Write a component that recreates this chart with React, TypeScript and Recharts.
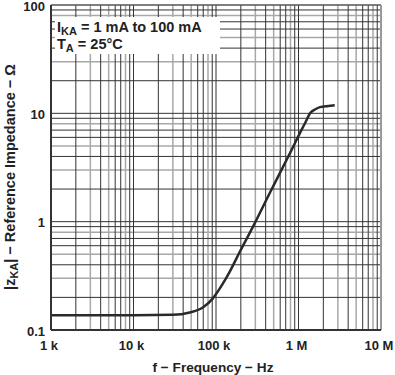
import React from "react";
import { LineChart, Line, XAxis, YAxis, ReferenceLine } from "recharts";

const freqHz = [1e3, 1e4, 3e4, 4.8e4, 7e4, 9.1e4, 1.2e5, 1.48e5, 1.95e5, 2.81e5, 4.5e5, 8.3e5, 1.05e6, 1.2e6, 1.38e6, 1.6e6, 1.82e6, 2.3e6, 2.75e6];
const impedanceOhm = [0.137, 0.137, 0.138, 0.145, 0.162, 0.195, 0.265, 0.35, 0.53, 0.9, 1.85, 4.64, 6.67, 8.1, 10.0, 10.9, 11.4, 11.7, 11.9];

const xTicks = [1e3, 1e4, 1e5, 1e6, 1e7];
const xTickLabels = ["1 k", "10 k", "100 k", "1 M", "10 M"];
const yTicks = [0.1, 1, 10, 100];
const yTickLabels = ["0.1", "1", "10", "100"];

const xDecades = [1e3, 1e4, 1e5, 1e6];
const yDecades = [0.1, 1, 10];
const darkMultipliers = [2, 4, 6, 7, 9];
const lightMultipliers = [3, 5, 8];

const data = freqHz.map((f, i) => ({ f, z: impedanceOhm[i] }));

const FONT = "'Liberation Sans', Arial, Helvetica, sans-serif";
const DARK = "#333333";
const LIGHT = "#a8a8a8";

const xDark = xDecades.flatMap((d) => darkMultipliers.map((m) => d * m)).concat([1e4, 1e5, 1e6]);
const xLight = xDecades.flatMap((d) => lightMultipliers.map((m) => d * m));
const yDark = yDecades.flatMap((d) => darkMultipliers.map((m) => d * m)).concat([1, 10]);
const yLight = yDecades.flatMap((d) => lightMultipliers.map((m) => d * m));

const XTick = (props: any) => {
  const { x, y, payload } = props;
  const idx = xTicks.indexOf(payload.value);
  return (
    <text x={x - 2} y={y} dy={9} textAnchor="middle" fontFamily={FONT} fontWeight="bold" fontSize={13} fill="#222">
      {xTickLabels[idx]}
    </text>
  );
};

const YTick = (props: any) => {
  const { x, y, payload } = props;
  const idx = yTicks.indexOf(payload.value);
  return (
    <text x={x} y={y} dy={5.5} textAnchor="end" fontFamily={FONT} fontWeight="bold" fontSize={13} fill="#222">
      {yTickLabels[idx]}
    </text>
  );
};

const XTitle = () => (
  <text x={213} y={372} textAnchor="middle" fontFamily={FONT} fontWeight="bold" fontSize={13.6} fill="#222">
    f − Frequency − Hz
  </text>
);

const YTitle = () => (
  <text
    x={0}
    y={0}
    transform="translate(15,177) rotate(-90)"
    textAnchor="middle"
    fontFamily={FONT}
    fontWeight="bold"
    fontSize={14.5}
    fill="#222"
  >
    |z<tspan fontSize={11} dy={3}>KA</tspan>
    <tspan dy={-3}>| − Reference Impedance − Ω</tspan>
  </text>
);

export default function App() {
  return (
    <div style={{ position: "absolute", left: 0, top: 0, width: 395, height: 375, background: "#fff" }}>
      <LineChart width={395} height={375} data={data} margin={{ top: 5, right: 14, bottom: 0, left: 0 }}>
        <XAxis
          dataKey="f"
          type="number"
          scale="log"
          domain={[1e3, 1e7]}
          ticks={xTicks}
          allowDataOverflow
          height={45}
          tickLine={false}
          tickSize={6}
          tickMargin={5}
          axisLine={{ stroke: DARK, strokeWidth: 2 }}
          tick={<XTick />}
          interval={0}
          label={{ content: () => <XTitle /> }}
        />
        <YAxis
          dataKey="z"
          type="number"
          scale="log"
          domain={[0.1, 100]}
          ticks={yTicks}
          allowDataOverflow
          width={51}
          tickLine={false}
          tickSize={6}
          tickMargin={0}
          axisLine={{ stroke: DARK, strokeWidth: 2 }}
          tick={<YTick />}
          interval={0}
          label={{ content: () => <YTitle /> }}
        />
        {xLight.map((v) => (
          <ReferenceLine key={"xl" + v} x={v} stroke={LIGHT} strokeWidth={1.5} />
        ))}
        {yLight.map((v) => (
          <ReferenceLine key={"yl" + v} y={v} stroke={LIGHT} strokeWidth={1.5} />
        ))}
        {xDark.map((v) => (
          <ReferenceLine key={"xd" + v} x={v} stroke={DARK} strokeWidth={1} />
        ))}
        {yDark.map((v) => (
          <ReferenceLine key={"yd" + v} y={v} stroke={DARK} strokeWidth={1} />
        ))}
        <ReferenceLine y={100} stroke="#555" strokeWidth={1.5} />
        <ReferenceLine x={1e7} stroke="#999" strokeWidth={2} />
        <Line
          type="monotone"
          dataKey="z"
          stroke="#2a2a2a"
          strokeWidth={2.5}
          dot={false}
          isAnimationActive={false}
        />
      </LineChart>
      <div
        style={{
          position: "absolute",
          left: 55,
          top: 17,
          width: 165,
          height: 37,
          background: "#fff",
          fontFamily: FONT,
          fontWeight: "bold",
          fontSize: 14.5,
          color: "#222",
          lineHeight: "17px",
          paddingLeft: 2,
          paddingTop: 2,
          boxSizing: "border-box",
          whiteSpace: "nowrap",
        }}
      >
        <div>
          I<sub style={{ fontSize: 11, verticalAlign: "-3px", lineHeight: 0 }}>KA</sub> = 1 mA to 100 mA
        </div>
        <div>
          T<sub style={{ fontSize: 11, verticalAlign: "-3px", lineHeight: 0 }}>A</sub> = 25°C
        </div>
      </div>
    </div>
  );
}
